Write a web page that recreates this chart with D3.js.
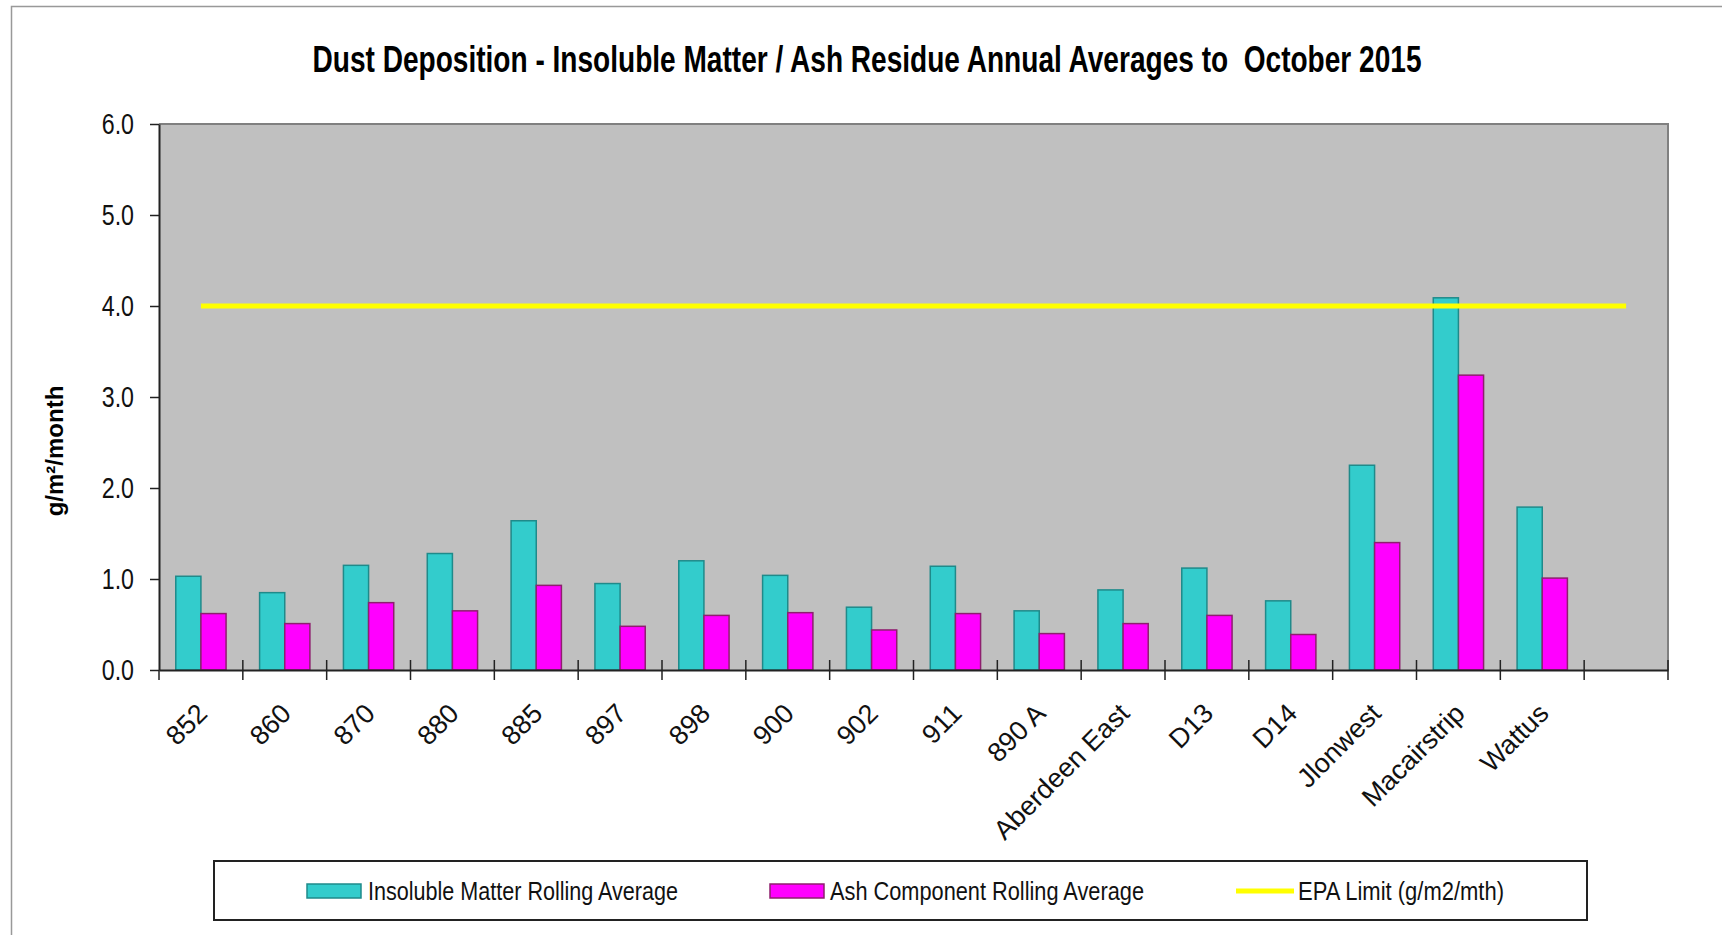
<!DOCTYPE html>
<html>
<head>
  <meta charset="utf-8">
  <title>Dust Deposition</title>
  <style>
    body { margin: 0; background: #fff; }
    text { white-space: pre; }
  </style>
</head>
<body>

  <script src="https://cdn.jsdelivr.net/npm/d3@7/dist/d3.min.js"></script>
  <script type="text/javascript">

  // values (g/m2/month); last slot is an empty category
  var categories = ['852', '860', '870', '880', '885', '897', '898', '900', '902', '911',
                    '890 A', 'Aberdeen East', 'D13', 'D14', 'Jlonwest', 'Macairstrip', 'Wattus', ''];
  var insoluble  = [1.03, 0.85, 1.15, 1.28, 1.64, 0.95, 1.20, 1.04, 0.69, 1.14,
                    0.65, 0.88, 1.12, 0.76, 2.25, 4.09, 1.79, null];
  var ash        = [0.62, 0.51, 0.74, 0.65, 0.93, 0.48, 0.60, 0.63, 0.44, 0.62,
                    0.40, 0.51, 0.60, 0.39, 1.40, 3.24, 1.01, null];
  var epaLimit   = [4.0, 4.0, 4.0, 4.0, 4.0, 4.0, 4.0, 4.0, 4.0, 4.0,
                    4.0, 4.0, 4.0, 4.0, 4.0, 4.0, 4.0, 4.0];
  var yTicks     = [0, 1, 2, 3, 4, 5, 6];
  var seriesNames = ['Insoluble Matter Rolling Average', 'Ash Component Rolling Average', 'EPA Limit (g/m2/mth)'];

  var W = 1722, H = 935,
      plotLeft = 159, plotRight = 1668, plotTop = 124, plotBottom = 670,
      narrow = '"Liberation Sans Narrow", "Arial Narrow", "Liberation Sans", Arial, sans-serif',
      sans = '"Liberation Sans", Arial, sans-serif',
      squeeze = 0.8,   // the original picture is squashed sideways
      cyan = '#33CCCC', magenta = '#FF00FF', yellow = '#FFFF00';

  var svg = d3.select('body')
              .append('svg')
              .attr('width', W)
              .attr('height', H);

  var x = d3.scaleBand().domain(categories).range([plotLeft, plotRight]),
      x1 = d3.scaleBand().domain(['ins', 'ash']).range([x.bandwidth() * 0.2, x.bandwidth() * 0.8]),
      y = d3.scaleLinear().domain([0, 6]).range([plotBottom, plotTop]);

  function condense(sel){
    sel.each(function(){
      var w = this.getComputedTextLength();
      if(w > 0){
        d3.select(this)
          .attr('textLength', w * squeeze)
          .attr('lengthAdjust', 'spacingAndGlyphs');
      }
    });
  }

  // outer chart frame (only top and left edges visible)
  svg.append('path')
     .attr('d', 'M11.5,' + H + 'V6.5H' + W)
     .attr('fill', 'none')
     .attr('stroke', '#999')
     .attr('stroke-width', 1.5);

  // title
  svg.append('text')
     .attr('x', 867)
     .attr('y', 72)
     .attr('text-anchor', 'middle')
     .attr('textLength', 1109)
     .attr('lengthAdjust', 'spacingAndGlyphs')
     .style('font-family', narrow)
     .style('font-weight', 'bold')
     .style('font-size', '36px')
     .text('Dust Deposition - Insoluble Matter / Ash Residue Annual Averages to  October 2015');

  // plot area
  svg.append('rect')
     .attr('x', plotLeft).attr('y', plotTop)
     .attr('width', plotRight - plotLeft).attr('height', plotBottom - plotTop)
     .attr('fill', '#C0C0C0');

  svg.append('path')
     .attr('d', 'M' + plotLeft + ',' + plotTop + 'H' + plotRight + 'V' + plotBottom)
     .attr('fill', 'none')
     .attr('stroke', '#808080')
     .attr('stroke-width', 2);

  // bars
  var rows = categories.map(function(c, i){
    return { cat: c, ins: insoluble[i], ash: ash[i] };
  }).filter(function(d){ return d.ins != null; });

  var groups = svg.selectAll('g.cat')
     .data(rows)
     .enter()
     .append('g')
     .attr('class', 'cat')
     .attr('transform', function(d){ return 'translate(' + x(d.cat) + ',0)'; });

  groups.append('rect')
     .attr('x', x1('ins'))
     .attr('width', x1.bandwidth())
     .attr('y', function(d){ return y(d.ins); })
     .attr('height', function(d){ return y(0) - y(d.ins); })
     .attr('fill', cyan)
     .attr('stroke', '#1F8A8A')
     .attr('stroke-width', 1.5);

  groups.append('rect')
     .attr('x', x1('ash'))
     .attr('width', x1.bandwidth())
     .attr('y', function(d){ return y(d.ash); })
     .attr('height', function(d){ return y(0) - y(d.ash); })
     .attr('fill', magenta)
     .attr('stroke', '#8E1F6E')
     .attr('stroke-width', 1.5);

  // EPA limit line
  var line = d3.line()
     .x(function(d, i){ return x(categories[i]) + x.bandwidth() / 2; })
     .y(function(d){ return y(d); });

  svg.append('path')
     .datum(epaLimit)
     .attr('d', line)
     .attr('fill', 'none')
     .attr('stroke', yellow)
     .attr('stroke-width', 5);

  // y axis
  var yAxis = svg.append('g')
     .attr('transform', 'translate(' + plotLeft + ',0)')
     .call(d3.axisLeft(y).tickValues(yTicks).tickFormat(d3.format('.1f'))
             .tickSize(9).tickSizeOuter(0).tickPadding(16));

  yAxis.select('.domain').attr('stroke', '#222').attr('stroke-width', 2);
  yAxis.selectAll('line').attr('stroke', '#222').attr('stroke-width', 1.5);
  yAxis.selectAll('text')
     .style('font-family', narrow)
     .style('font-size', '29px')
     .attr('fill', '#111')
     .call(condense);

  // x axis: labels from the axis, ticks between categories
  var xAxis = svg.append('g')
     .attr('transform', 'translate(0,' + plotBottom + ')')
     .call(d3.axisBottom(x).tickSize(0).tickSizeOuter(0));

  xAxis.select('.domain').attr('stroke', '#222').attr('stroke-width', 2);
  xAxis.selectAll('text')
     .attr('x', 0).attr('y', 0).attr('dy', 0)
     .attr('transform', 'translate(8,45) rotate(-45)')
     .attr('text-anchor', 'end')
     .attr('fill', '#111')
     .style('font-family', narrow)
     .style('font-size', '27px');

  var bounds = categories.map(function(c){ return x(c); }).concat([plotRight]);

  xAxis.selectAll('line.sep')
     .data(bounds)
     .enter()
     .append('line')
     .attr('class', 'sep')
     .attr('x1', function(d){ return d; })
     .attr('x2', function(d){ return d; })
     .attr('y1', function(d, i){ return i === 0 ? 0 : -10; })
     .attr('y2', 10)
     .attr('stroke', '#222')
     .attr('stroke-width', 1.5);

  // y axis title
  svg.append('text')
     .attr('transform', 'translate(63,451) rotate(-90)')
     .attr('text-anchor', 'middle')
     .style('font-family', sans)
     .style('font-weight', 'bold')
     .style('font-size', '24px')
     .text('g/m²/month');

  // legend
  var legend = svg.append('g');

  legend.append('rect')
     .attr('x', 214).attr('y', 861)
     .attr('width', 1373).attr('height', 59)
     .attr('fill', '#fff')
     .attr('stroke', '#222')
     .attr('stroke-width', 2);

  var legendItems = [
    { name: seriesNames[0], kind: 'bar', fill: cyan, stroke: '#1F8A8A', x: 307, tx: 368, tw: 310 },
    { name: seriesNames[1], kind: 'bar', fill: magenta, stroke: '#8E1F6E', x: 770, tx: 830, tw: 314 },
    { name: seriesNames[2], kind: 'line', fill: yellow, x: 1236, tx: 1298, tw: 206 }
  ];

  legendItems.forEach(function(it){
    if(it.kind === 'bar'){
      legend.append('rect')
        .attr('x', it.x).attr('y', 884)
        .attr('width', 54).attr('height', 14)
        .attr('fill', it.fill)
        .attr('stroke', it.stroke)
        .attr('stroke-width', 1.5);
    } else {
      legend.append('line')
        .attr('x1', it.x).attr('x2', it.x + 58)
        .attr('y1', 891).attr('y2', 891)
        .attr('stroke', it.fill)
        .attr('stroke-width', 5);
    }
    legend.append('text')
      .attr('x', it.tx)
      .attr('y', 900)
      .attr('textLength', it.tw)
      .attr('lengthAdjust', 'spacingAndGlyphs')
      .attr('fill', '#111')
      .style('font-family', narrow)
      .style('font-size', '26px')
      .text(it.name);
  });

  </script>
</body>
</html>
